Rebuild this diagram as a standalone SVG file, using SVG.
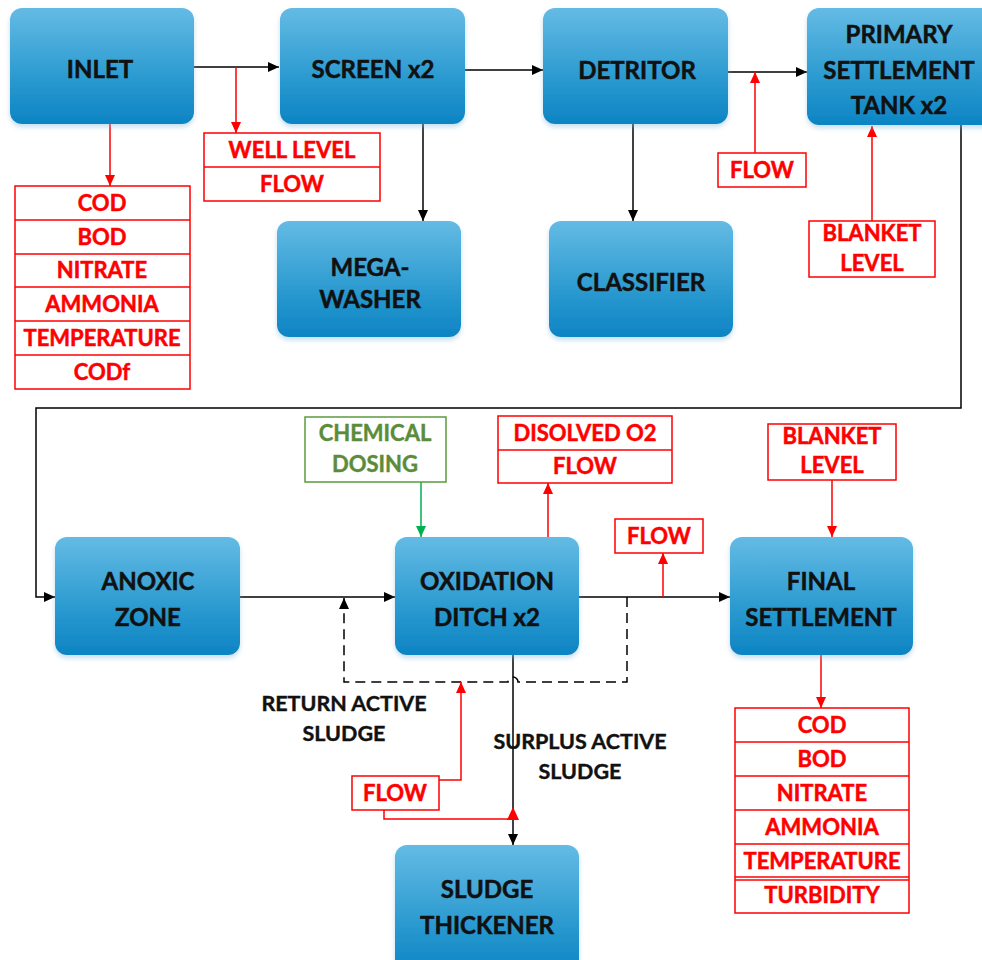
<svg xmlns="http://www.w3.org/2000/svg" width="982" height="960" viewBox="0 0 982 960">
<defs>
<linearGradient id="blue" x1="0" y1="0" x2="0" y2="1">
<stop offset="0" stop-color="#64bbe4"/>
<stop offset="0.6" stop-color="#2b9ad0"/>
<stop offset="1" stop-color="#0c84c3"/>
</linearGradient>
<filter id="sh" x="-10%" y="-10%" width="120%" height="125%">
<feDropShadow dx="0" dy="3" stdDeviation="2.5" flood-color="#7fb8d8" flood-opacity="0.45"/>
</filter>
<marker id="ab" markerUnits="userSpaceOnUse" markerWidth="12" markerHeight="10" refX="11" refY="5" orient="auto"><path d="M0,0 L11,5 L0,10 z" fill="#000"/></marker>
<marker id="ar" markerUnits="userSpaceOnUse" markerWidth="12" markerHeight="10" refX="11" refY="5" orient="auto"><path d="M0,0 L11,5 L0,10 z" fill="#ff0000"/></marker>
<marker id="ag" markerUnits="userSpaceOnUse" markerWidth="12" markerHeight="10" refX="11" refY="5" orient="auto"><path d="M0,0 L11,5 L0,10 z" fill="#00b050"/></marker>
</defs>
<style>
.node rect{fill:url(#blue);filter:url(#sh)}
.nt{font-family:Lato,"Open Sans","Liberation Sans",sans-serif;font-weight:700;font-size:24px;fill:#111;stroke:#111;stroke-width:0.5;text-anchor:middle}
.rt{font-family:Lato,"Open Sans","Liberation Sans",sans-serif;font-weight:700;font-size:22px;fill:#ff0000;stroke:#ff0000;stroke-width:0.5;text-anchor:middle}
.gt{font-family:Lato,"Open Sans","Liberation Sans",sans-serif;font-weight:700;font-size:22px;fill:#5b8c3a;stroke:#5b8c3a;stroke-width:0.4;text-anchor:middle}
.bt{font-family:Lato,"Open Sans","Liberation Sans",sans-serif;font-weight:700;font-size:21.5px;fill:#111;stroke:#111;stroke-width:0.4;text-anchor:middle}
.rb{fill:#fff;stroke:#ff0000;stroke-width:1.5}
.rl{stroke:#ff0000;stroke-width:1.5}
.cb{fill:none;stroke:#000;stroke-width:1.5}
.cr{fill:none;stroke:#ff0000;stroke-width:1.5}
.cg{fill:none;stroke:#00b050;stroke-width:1.5}
.dash{fill:none;stroke:#000;stroke-width:1.5;stroke-dasharray:10 6}
</style>

<g id="connectors">
<path class="cb" d="M194 67 H279" marker-end="url(#ab)"/>
<path class="cr" d="M236 67 V133" marker-end="url(#ar)"/>
<path class="cr" d="M110 124 V186" marker-end="url(#ar)"/>
<path class="cb" d="M465 70 H543" marker-end="url(#ab)"/>
<path class="cb" d="M423 124 V221" marker-end="url(#ab)"/>
<path class="cb" d="M633 124 V221" marker-end="url(#ab)"/>
<path class="cb" d="M728 72 H807" marker-end="url(#ab)"/>
<path class="cr" d="M755 153 V72" marker-end="url(#ar)"/>
<path class="cr" d="M872 221 V126" marker-end="url(#ar)"/>
<path class="cb" d="M961 125 V408 H36 V597 H55" marker-end="url(#ab)"/>
<path class="cb" d="M240 597 H395" marker-end="url(#ab)"/>
<path class="cg" d="M421 482 V537" marker-end="url(#ag)"/>
<path class="cr" d="M548 537 V483" marker-end="url(#ar)"/>
<path class="cb" d="M579 597 H730" marker-end="url(#ab)"/>
<path class="cr" d="M663 597 V553" marker-end="url(#ar)"/>
<path class="cr" d="M832 480 V537" marker-end="url(#ar)"/>
<path class="cr" d="M821 655 V708" marker-end="url(#ar)"/>
<path class="dash" d="M627 597 V682 H518 A5 5 0 0 0 508 682 H344 V598" marker-end="url(#ab)"/>
<path class="cb" d="M513 655 V845" marker-end="url(#ab)"/>
<path class="cr" d="M439 780 H461 V682" marker-end="url(#ar)"/>
<path class="cr" d="M384 810 V819 H513"/>
<polygon points="507,820 519,820 513,807" fill="#ff0000"/>
</g>

<g id="inlet" class="node"><rect x="10" y="8" width="184" height="116" rx="12"/><text class="nt" x="100" y="78">INLET</text></g>
<g id="screen" class="node"><rect x="280" y="8" width="185" height="116" rx="12"/><text class="nt" x="373" y="78">SCREEN x2</text></g>
<g id="detritor" class="node"><rect x="543" y="8" width="185" height="116" rx="12"/><text class="nt" x="637" y="79">DETRITOR</text></g>
<g id="primary" class="node"><rect x="807" y="8" width="190" height="117" rx="12"/><text class="nt" x="899" y="43">PRIMARY</text><text class="nt" x="899" y="79">SETTLEMENT</text><text class="nt" x="899" y="114">TANK x2</text></g>
<g id="megawasher" class="node"><rect x="277" y="221" width="184" height="116" rx="12"/><text class="nt" x="370" y="276">MEGA-</text><text class="nt" x="370" y="308">WASHER</text></g>
<g id="classifier" class="node"><rect x="549" y="221" width="184" height="116" rx="12"/><text class="nt" x="641" y="291">CLASSIFIER</text></g>
<g id="anoxic" class="node"><rect x="55" y="537" width="185" height="118" rx="12"/><text class="nt" x="148" y="590">ANOXIC</text><text class="nt" x="148" y="626">ZONE</text></g>
<g id="oxidation" class="node"><rect x="395" y="537" width="184" height="118" rx="12"/><text class="nt" x="487" y="590">OXIDATION</text><text class="nt" x="487" y="626">DITCH x2</text></g>
<g id="final" class="node"><rect x="730" y="537" width="183" height="118" rx="12"/><text class="nt" x="821" y="590">FINAL</text><text class="nt" x="821" y="626">SETTLEMENT</text></g>
<g id="thickener" class="node"><rect x="395" y="845" width="184" height="130" rx="12"/><text class="nt" x="487" y="898">SLUDGE</text><text class="nt" x="487" y="934">THICKENER</text></g>

<g id="inlet-params">
<rect class="rb" x="15" y="186" width="175" height="203"/>
<line class="rl" x1="15" y1="220" x2="190" y2="220"/><line class="rl" x1="15" y1="254" x2="190" y2="254"/><line class="rl" x1="15" y1="287" x2="190" y2="287"/><line class="rl" x1="15" y1="321" x2="190" y2="321"/><line class="rl" x1="15" y1="355" x2="190" y2="355"/>
<text class="rt" x="102" y="211">COD</text><text class="rt" x="102" y="245">BOD</text><text class="rt" x="102" y="278">NITRATE</text><text class="rt" x="102" y="312">AMMONIA</text><text class="rt" x="102" y="346">TEMPERATURE</text><text class="rt" x="102" y="380">CODf</text>
</g>
<g id="well">
<rect class="rb" x="204" y="133" width="176" height="68"/><line class="rl" x1="204" y1="167" x2="380" y2="167"/>
<text class="rt" x="292" y="158">WELL LEVEL</text><text class="rt" x="292" y="192">FLOW</text>
</g>
<g id="flow1"><rect class="rb" x="718" y="153" width="88" height="34"/><text class="rt" x="762" y="178">FLOW</text></g>
<g id="blanket1"><rect class="rb" x="809" y="221" width="126" height="56"/><text class="rt" x="872" y="241">BLANKET</text><text class="rt" x="872" y="271">LEVEL</text></g>
<g id="chemical"><rect x="305" y="417" width="141" height="65" fill="#fff" stroke="#5b9a3c" stroke-width="1.5"/><text class="gt" x="375" y="441">CHEMICAL</text><text class="gt" x="375" y="472">DOSING</text></g>
<g id="do2"><rect class="rb" x="498" y="416" width="174" height="67"/><line class="rl" x1="498" y1="450" x2="672" y2="450"/><text class="rt" x="585" y="441">DISOLVED O2</text><text class="rt" x="585" y="474">FLOW</text></g>
<g id="flow2"><rect class="rb" x="615" y="519" width="88" height="34"/><text class="rt" x="659" y="544">FLOW</text></g>
<g id="blanket2"><rect class="rb" x="768" y="424" width="128" height="56"/><text class="rt" x="832" y="444">BLANKET</text><text class="rt" x="832" y="473">LEVEL</text></g>
<g id="flow3"><rect class="rb" x="352" y="776" width="87" height="34"/><text class="rt" x="395" y="801">FLOW</text></g>
<g id="final-params">
<rect class="rb" x="735" y="708" width="174" height="205"/>
<line class="rl" x1="735" y1="742" x2="909" y2="742"/><line class="rl" x1="735" y1="776" x2="909" y2="776"/><line class="rl" x1="735" y1="810" x2="909" y2="810"/><line class="rl" x1="735" y1="844" x2="909" y2="844"/><line class="rl" x1="735" y1="877" x2="909" y2="877"/><line class="rl" x1="735" y1="880" x2="909" y2="880"/>
<text class="rt" x="822" y="733">COD</text><text class="rt" x="822" y="767">BOD</text><text class="rt" x="822" y="801">NITRATE</text><text class="rt" x="822" y="835">AMMONIA</text><text class="rt" x="822" y="869">TEMPERATURE</text><text class="rt" x="822" y="903">TURBIDITY</text>
</g>
<g id="labels">
<text class="bt" x="344" y="711">RETURN ACTIVE</text><text class="bt" x="344" y="741">SLUDGE</text>
<text class="bt" x="580" y="749">SURPLUS ACTIVE</text><text class="bt" x="580" y="779">SLUDGE</text>
</g>
</svg>
